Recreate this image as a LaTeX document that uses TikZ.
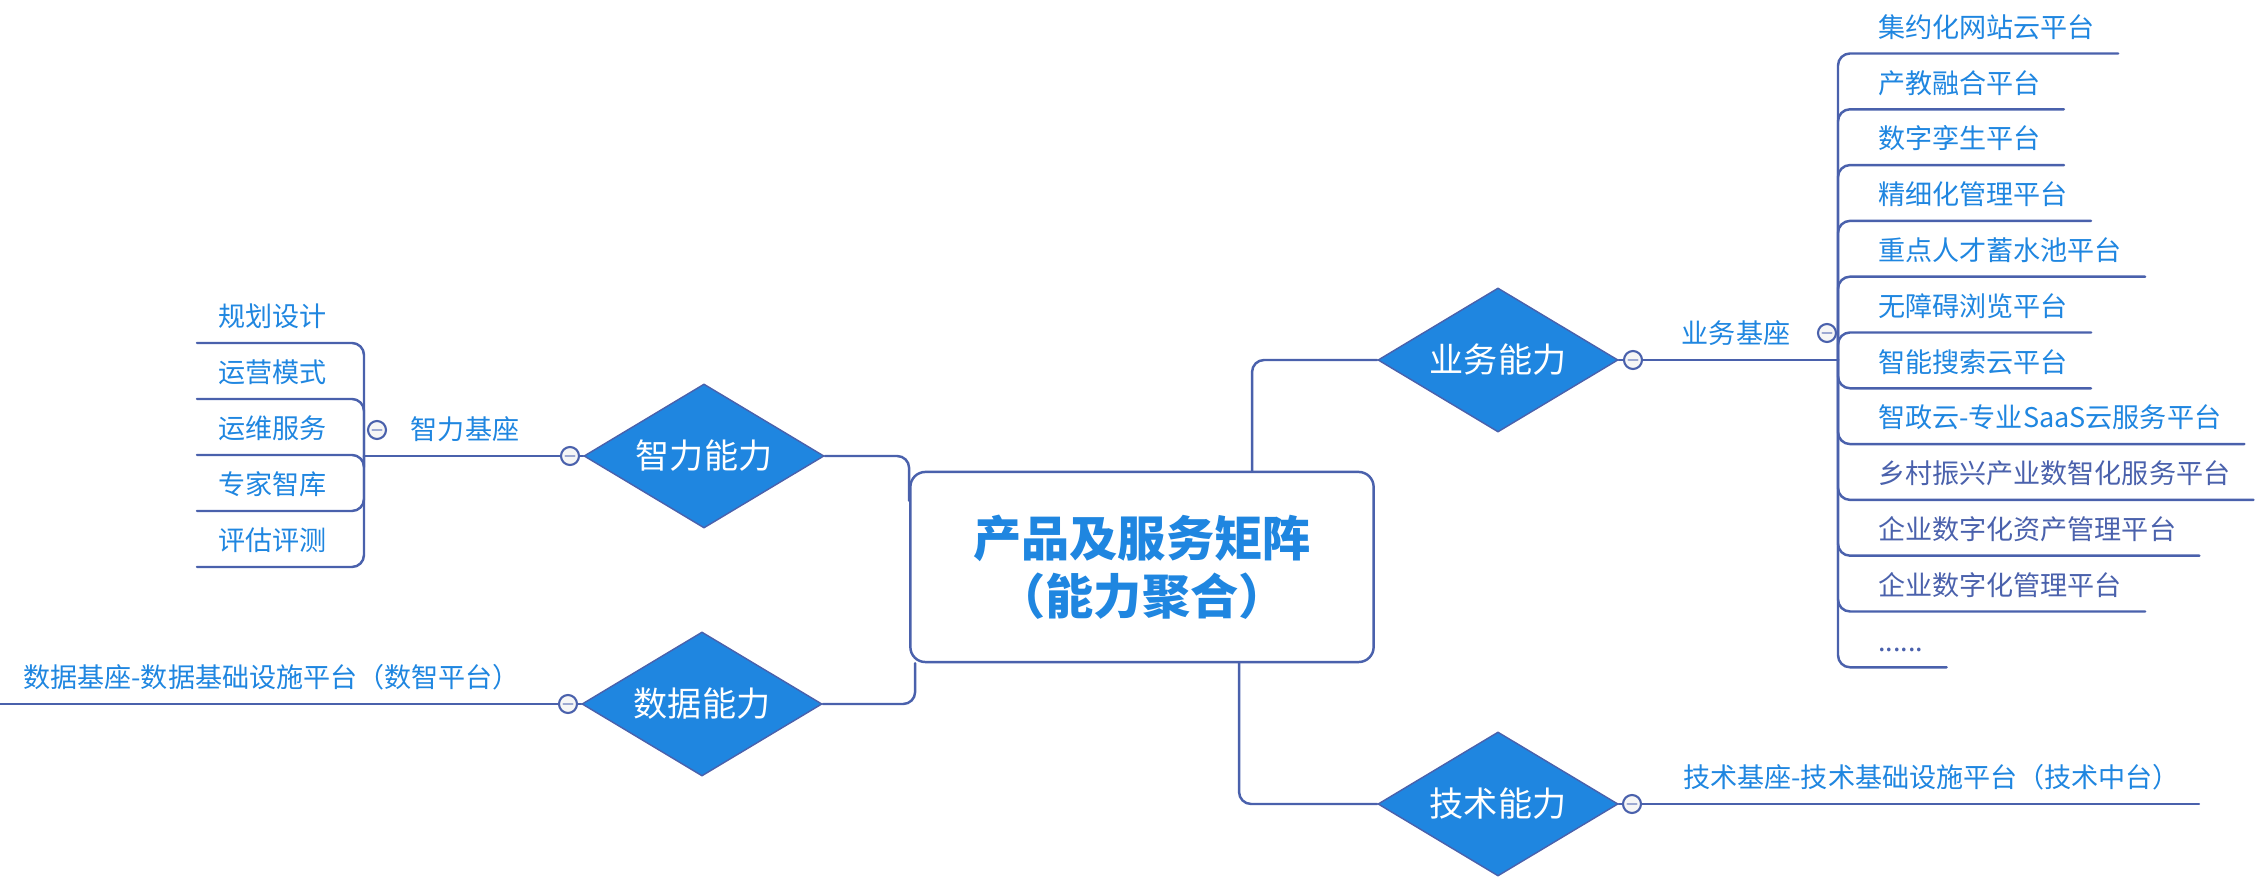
\documentclass[tikz,border=0pt]{standalone}
\usepackage{fontspec}
\setmainfont{Noto Sans CJK SC}
\usetikzlibrary{shapes.geometric}
\definecolor{linec}{RGB}{74,97,172}
\definecolor{bluec}{RGB}{31,134,224}
\newcommand{\moredots}{......}
\begin{document}
\begin{tikzpicture}[x=0.01cm, y=-0.01cm, line width=0.7pt, line join=round, line cap=round, color=linec,
	hubbox/.style={rounded corners=0.15cm, draw=linec, fill=white, minimum width=4.63cm, minimum height=1.9cm, align=center, text=bluec, font=\bfseries\fontsize{13.7}{16.5}\selectfont},
	diam/.style={diamond, aspect=1.67, draw=linec, fill=bluec, line width=0.4pt, minimum width=2.4cm, minimum height=1.44cm, inner sep=0pt, text=white, font=\fontsize{9.7}{12}\selectfont},
	leaf/.style={inner xsep=0pt, inner ysep=0.15cm, text depth=0pt, anchor=south west, text=bluec, font=\fontsize{7.7}{9}\selectfont},
	foldmark/.style={circle, draw=linec, fill=gray!7, minimum size=0.18cm, inner sep=0pt, line width=0.6pt,
		path picture={\draw[linec!55, line width=0.6pt] ([xshift=-0.045cm]path picture bounding box.center) -- ([xshift=0.045cm]path picture bounding box.center);}},
	joint/.style={rounded corners=0.12cm}]
	\useasboundingbox (0,0) rectangle (2268,883);
	\path
	(364,456) coordinate (zhiJ)
	(1838,360) coordinate (yeJ)
	(0,704) coordinate (shuE)
	(2199,804) coordinate (jiE)
	;
	\node[hubbox] (hub) at (1142,567) {产品及服务矩阵\\（能力聚合）};
	\node[diam] (zhi) at (704,456) {智力能力};
	\node[diam] (shu) at (702,704) {数据能力};
	\node[diam] (ye) at (1498,360) {业务能力};
	\node[diam] (ji) at (1498,804) {技术能力};
	\node[foldmark] (zhiF) at (570,456) {};
	\node[foldmark] (shuF) at (568,704) {};
	\node[foldmark] (yeF) at (1633,360) {};
	\node[foldmark] (jiF) at (1632,804) {};
	\node[foldmark] (zhiBF) at (377,430) {};
	\node[foldmark] (yeBF) at (1827,333) {};
	\draw[joint] (zhi.east) -| ([yshift=-0.3cm]hub.north west);
	\draw[joint] (shu.east) -| ([xshift=0.06cm]hub.south west);
	\draw[joint] (ye.west) -| ([xshift=1.1cm]hub.north);
	\draw[joint] ([xshift=0.97cm]hub.south) |- (ji.west);
	\draw (zhi) -- (zhiF) (shu) -- (shuF) (ye) -- (yeF) (ji) -- (jiF);
	\draw (zhiF) -- (zhiJ) (yeF) -- (yeJ) (shuF) -- (shuE) (jiF) -- (jiE);
	\node[leaf, anchor=south] (zhiB) at (465,456) {智力基座};
	\node[leaf, anchor=south] (yeB) at (1736,360) {业务基座};
	\node[leaf] (shuB) at (22,704) {数据基座-数据基础设施平台（数智平台）};
	\node[leaf] (jiB) at (1682,804) {技术基座-技术基础设施平台（技术中台）};
	\foreach \i/\t in {1/规划设计,2/运营模式,3/运维服务,4/专家智库,5/评估评测}{
		\node[leaf] (zhiL\i) at (217,{343+56*(\i-1)}) {\t};
		\draw[joint] (zhiJ) |- ([xshift=-0.2cm]zhiL\i.south west);
	}
	\foreach \i/\t/\c in {1/集约化网站云平台/bluec,2/产教融合平台/bluec,3/数字孪生平台/bluec,4/精细化管理平台/bluec,5/重点人才蓄水池平台/bluec,6/无障碍浏览平台/bluec,7/智能搜索云平台/bluec,8/智政云-专业SaaS云服务平台/bluec,9/乡村振兴产业数智化服务平台/linec,10/企业数字化资产管理平台/linec,11/企业数字化管理平台/linec,12/\moredots/linec}{
		\node[leaf, text=\c] (yeL\i) at (1877,{53.5+55.8*(\i-1)}) {\t};
		\draw[joint] (yeJ) |- ([xshift=0.22cm]yeL\i.south east);
	}
\end{tikzpicture}
\end{document}
